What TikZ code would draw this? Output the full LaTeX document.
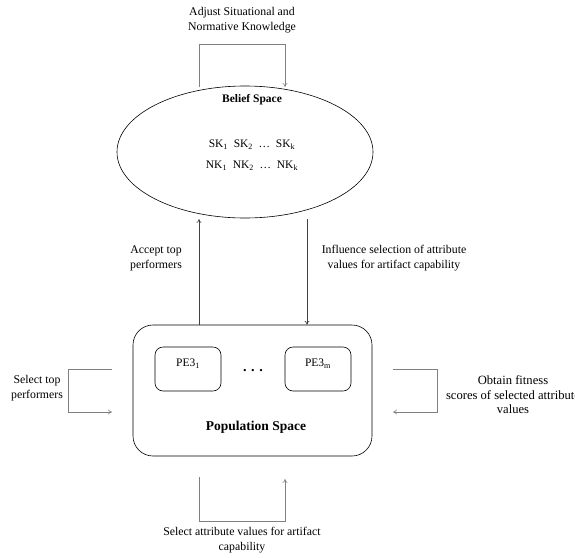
\documentclass[tikz,border=0pt]{standalone}
\usepackage{fontspec}
\setmainfont{Liberation Serif}
\usetikzlibrary{shapes.geometric,arrows.meta}
\begin{document}
\begin{tikzpicture}[x=1pt,y=-1pt,
  lbl/.style={font=\fontsize{11.8}{15}\selectfont, align=center, inner sep=0pt},
  loopline/.style={draw=black!50, line width=0.6pt},
  mainline/.style={draw=black!75, line width=0.6pt},
  tip/.style={-{To[length=4pt,width=5pt]}},
  peb/.style={draw, rounded corners=8pt, minimum width=66pt, minimum height=44pt, inner sep=0pt, line width=0.6pt}]
\useasboundingbox (0,0) rectangle (575,557);
% belief space
\node[ellipse, draw, line width=0.6pt, minimum width=256pt, minimum height=132pt, inner sep=0pt] (bs) at (245,152) {};
\node[font=\fontsize{11.5}{13}\bfseries\selectfont, inner sep=0pt] (bst) at (252,100) {Belief Space};
\node[font=\fontsize{11.5}{13}\selectfont, inner sep=0pt] (sk) at (252,145) {SK\textsubscript{1}\ \ SK\textsubscript{2}\ \ \dots\ \ SK\textsubscript{k}};
\node[font=\fontsize{11.5}{13}\selectfont, inner sep=0pt] (nk) at (252,166) {NK\textsubscript{1}\ \ NK\textsubscript{2}\ \ \dots\ \ NK\textsubscript{k}};
% population space
\node[draw, rounded corners=20pt, line width=0.6pt, minimum width=239pt, minimum height=131pt, inner sep=0pt] (pop) at (252.5,390.5) {};
\node[peb] (pe1) at (188,369) {};
\node[peb] (pem) at (318,369) {};
\node[font=\fontsize{11.5}{13}\selectfont, inner sep=0pt] (pe1t) at (188,364) {PE3\textsubscript{1}};
\node[font=\fontsize{11.5}{13}\selectfont, inner sep=0pt] (pemt) at (318,364) {PE3\textsubscript{m}};
\node[font=\fontsize{14}{16}\bfseries\selectfont, inner sep=0pt] (dots) at (253,371) {.\,\,.\,\,.};
\node[font=\fontsize{13.5}{15}\bfseries\selectfont, inner sep=0pt] (popt) at (256,427) {Population Space};
% coordinates
\coordinate (t1) at (199,87);
\coordinate (t2) at (285,87);
\coordinate (a1) at (199,219);
\coordinate (a2) at (307,219);
\coordinate (l1) at (112,369);
\coordinate (l2) at (112,412);
\coordinate (r1) at (393,369);
\coordinate (r2) at (393,412);
\coordinate (b1) at (199,477);
\coordinate (b2) at (285,479);
% top loop
\draw[loopline, tip] (t1) -- (199,44) -- (285,44) -- (t2);
\node[lbl] (adj) at (242,20) {Adjust Situational and\\Normative Knowledge};
% main arrows
\draw[mainline, tip] (pop.north -| a1) -- (a1);
\draw[mainline, tip] (a2) -- (pop.north -| a2);
\node[lbl] (acc) at (156,258.5) {Accept top\\performers};
\node[lbl] (inf) at (394,258.5) {Influence selection of attribute\\values for artifact capability};
% left loop
\draw[loopline, tip] (l1) -- (68,369) -- (68,412) -- (l2);
\node[lbl] (sel) at (37,388) {Select top\\performers};
% right loop
\draw[loopline, tip] (r1) -- (437,369) -- (437,412) -- (r2);
\node[lbl, font=\fontsize{12.6}{14.5}\selectfont] (obt) at (513,395) {Obtain fitness\\scores of selected attribute\\values};
% bottom loop
\draw[loopline, tip] (b1) -- (199,521) -- (285,521) -- (b2);
\node[lbl] (sav) at (242,540) {Select attribute values for artifact\\capability};
\end{tikzpicture}
\end{document}
